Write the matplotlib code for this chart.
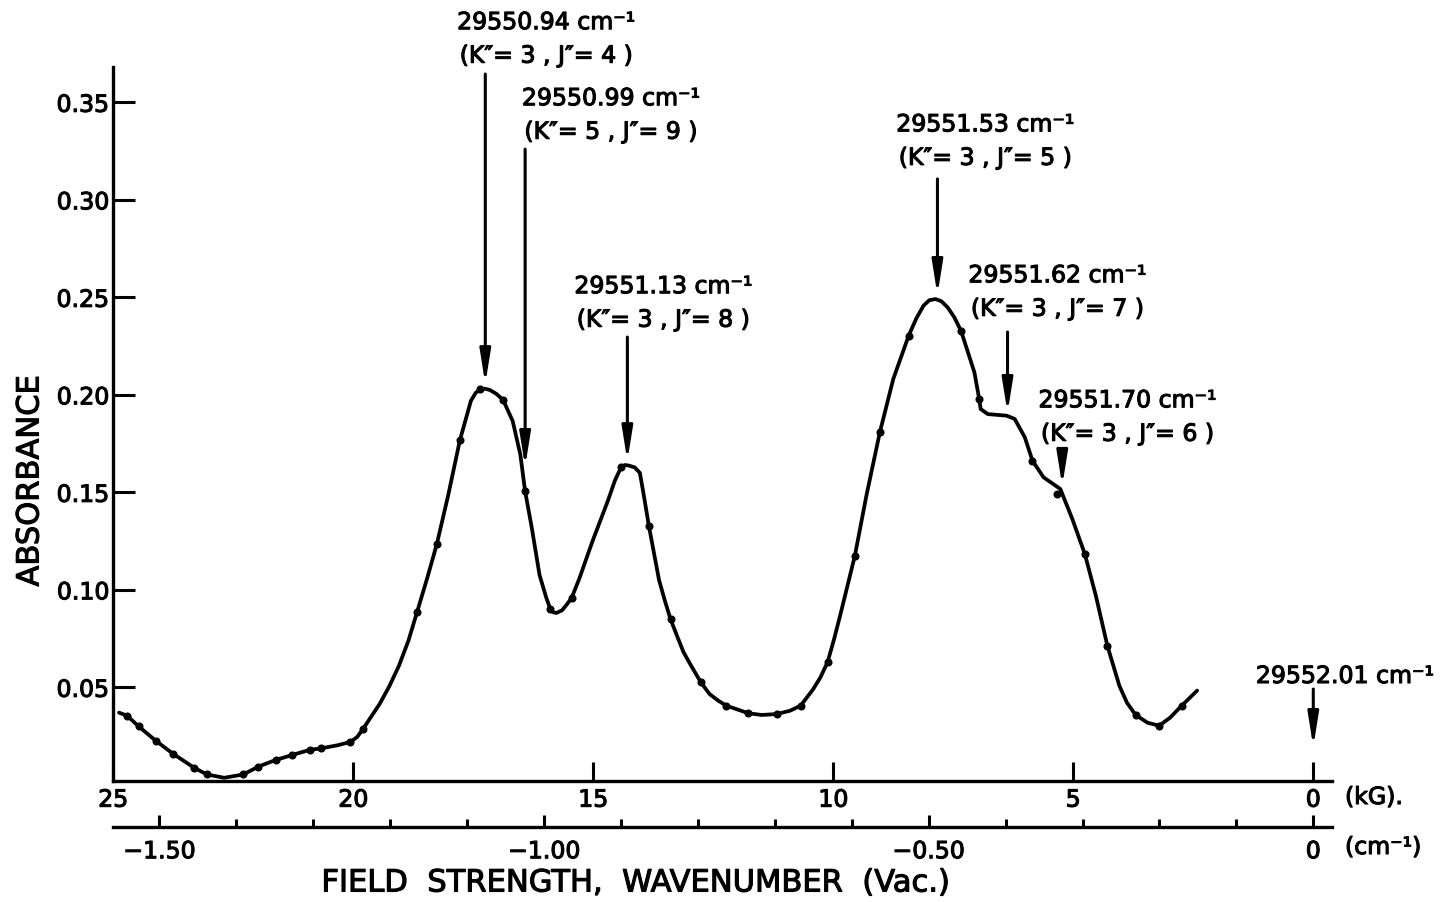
import numpy as np
import matplotlib
matplotlib.use("Agg")
import matplotlib.pyplot as plt
import matplotlib.patheffects as pe

plt.rcParams['font.family'] = ['DejaVu Sans']

# Absorbance vs. magnetic field (kG); smooth trace through the measurements
field_curve = [24.88, 24.71, 24.47, 24.11, 23.76, 23.32, 23.05, 22.69, 22.29, 21.98,
               21.62, 21.27, 20.91, 20.67, 20.32, 20.06, 19.92, 19.80, 19.68, 19.45,
               19.25, 19.05, 18.85, 18.67, 18.46, 18.26, 18.02, 17.78, 17.55, 17.45,
               17.35, 17.25, 17.15, 17.02, 16.88, 16.68, 16.52, 16.42, 16.28, 16.12,
               15.98, 15.90, 15.84, 15.77, 15.65, 15.55, 15.45, 15.29, 15.02, 14.70,
               14.55, 14.42, 14.34, 14.26, 14.14, 14.03, 13.95, 13.84, 13.63, 13.51,
               13.39, 13.25, 13.12, 12.96, 12.76, 12.58, 12.40, 12.23, 11.77, 11.49,
               11.17, 10.90, 10.68, 10.42, 10.27, 10.12, 9.98, 9.84, 9.55, 9.31,
               9.03, 8.75, 8.43, 8.27, 8.12, 8.00, 7.87, 7.75, 7.62, 7.48,
               7.34, 7.06, 6.96, 6.93, 6.78, 6.39, 6.22, 6.01, 5.85, 5.62,
               5.27, 5.02, 4.76, 4.53, 4.29, 4.04, 3.88, 3.70, 3.45, 3.21,
               2.98, 2.74, 2.42]
absorb_curve = [0.0370, 0.0354, 0.0299, 0.0225, 0.0160, 0.0088, 0.0053, 0.0036, 0.0053, 0.0093,
                0.0127, 0.0153, 0.0179, 0.0187, 0.0203, 0.0220, 0.0245, 0.0285, 0.0330, 0.0415,
                0.0505, 0.0610, 0.0740, 0.0887, 0.1060, 0.1234, 0.1488, 0.1766, 0.1969, 0.2010,
                0.2029, 0.2031, 0.2024, 0.2005, 0.1974, 0.1866, 0.1694, 0.1505, 0.1316, 0.1076,
                0.0960, 0.0904, 0.0885, 0.0881, 0.0895, 0.0925, 0.0959, 0.1058, 0.1247, 0.1454,
                0.1560, 0.1629, 0.1640, 0.1637, 0.1628, 0.1600, 0.1488, 0.1325, 0.1050, 0.0945,
                0.0849, 0.0760, 0.0680, 0.0610, 0.0526, 0.0466, 0.0432, 0.0406, 0.0367, 0.0358,
                0.0363, 0.0380, 0.0406, 0.0490, 0.0550, 0.0628, 0.0750, 0.0885, 0.1175, 0.1483,
                0.1808, 0.2081, 0.2303, 0.2392, 0.2457, 0.2485, 0.2491, 0.2480, 0.2449, 0.2398,
                0.2329, 0.2115, 0.1978, 0.1927, 0.1901, 0.1893, 0.1876, 0.1782, 0.1662, 0.1577,
                0.1517, 0.1363, 0.1184, 0.0970, 0.0713, 0.0508, 0.0420, 0.0358, 0.0318, 0.0303,
                0.0345, 0.0406, 0.0483]

# Measured points
field_pts = [24.71, 24.47, 24.11, 23.76, 23.32, 23.05, 22.29, 21.98, 21.62, 21.27,
             20.91, 20.67, 20.06, 19.80, 18.67, 18.26, 17.78, 17.35, 16.88, 16.42,
             15.90, 15.45, 14.42, 13.84, 13.39, 12.76, 12.23, 11.77, 11.17, 10.68,
             10.12, 9.55, 9.03, 8.43, 7.34, 6.96, 5.85, 5.33, 4.76, 4.29,
             3.70, 3.21, 2.74]
absorb_pts = [0.0354, 0.0299, 0.0225, 0.0160, 0.0088, 0.0053, 0.0053, 0.0093, 0.0127, 0.0153,
              0.0179, 0.0187, 0.0220, 0.0285, 0.0887, 0.1234, 0.1766, 0.2029, 0.1974, 0.1505,
              0.0904, 0.0959, 0.1629, 0.1325, 0.0849, 0.0526, 0.0406, 0.0367, 0.0363, 0.0406,
              0.0628, 0.1175, 0.1808, 0.2303, 0.2329, 0.1978, 0.1662, 0.1490, 0.1184, 0.0713,
              0.0358, 0.0303, 0.0406]

# Assigned transitions
line_field = [17.25, 16.42, 14.29, 7.83, 6.37, 5.23, 0.0]
line_wavenumber = ["29550.94", "29550.99", "29551.13", "29551.53", "29551.62", "29551.70", "29552.01"]
line_K = [3, 5, 3, 3, 3, 3, None]
line_J = [4, 9, 8, 5, 7, 6, None]

# Axis ticks
field_ticks = [25, 20, 15, 10, 5, 0]
field_ticklabels = ["25", "20", "15", "10", "5", "0"]
wn_ticks = [-1.50, -1.00, -0.50, 0.0]
wn_ticklabels = ["\u22121.50", "\u22121.00", "\u22120.50", "0"]
absorb_ticks = [0.05, 0.10, 0.15, 0.20, 0.25, 0.30, 0.35]
absorb_ticklabels = ["0.05", "0.10", "0.15", "0.20", "0.25", "0.30", "0.35"]
CM_PER_KG = 0.0624  # wavenumber shift per kG

# Slightly heavier lettering
ink = [pe.withStroke(linewidth=0.8, foreground='black')]

W, H = 1451, 903
fig = plt.figure(figsize=(W / 100, H / 100), dpi=100)
ax = fig.add_axes([113.3 / W, 1 - 781.7 / H, (1332 - 113.3) / W, (781.7 - 68) / H])

ax.plot(field_curve, absorb_curve, color='black', lw=2.7, solid_capstyle='round',
        solid_joinstyle='round', zorder=3)
ax.plot(field_pts, absorb_pts, 'o', color='black', ms=4.8, zorder=4)

ax.set_xlim(24.96, -0.39)
ax.set_ylim(0.0021, 0.3681)

for s in ('top', 'right'):
    ax.spines[s].set_visible(False)
for s in ('left', 'bottom'):
    ax.spines[s].set_linewidth(2.4)

ax.set_xticks(field_ticks)
ax.set_xticklabels(field_ticklabels)
ax.set_yticks(absorb_ticks)
ax.set_yticklabels(absorb_ticklabels)
ax.tick_params(axis='x', direction='in', length=14, width=2.2, labelsize=17, pad=5)
ax.tick_params(axis='y', direction='in', length=16, width=2.2, labelsize=17, pad=3)

# Wavenumber scale under the field scale
sec = ax.secondary_xaxis(-0.0645, functions=(lambda b: -CM_PER_KG * np.asarray(b),
                                             lambda w: -np.asarray(w) / CM_PER_KG))
sec.set_xticks(wn_ticks)
sec.set_xticklabels(wn_ticklabels)
sec.set_xticks(np.round(np.arange(-1.4, -0.05, 0.1), 2), minor=True)
sec.tick_params(which='major', direction='in', length=9, width=2.2, labelsize=17, pad=9)
sec.tick_params(which='minor', direction='in', length=5.5, width=2.2)
sec.spines['bottom'].set_linewidth(2.4)

for lbl in ax.get_xticklabels() + ax.get_yticklabels() + sec.get_xticklabels():
    lbl.set_path_effects(ink)

fig.text(1345 / W, 1 - 798 / H, "(kG).", fontsize=17, ha='left', va='center', path_effects=ink)
fig.text(1345 / W, 1 - 848 / H, "(cm\u207b\u00b9)", fontsize=17, ha='left', va='center',
         path_effects=ink)
fig.text(635 / W, 1 - 884 / H, "FIELD  STRENGTH,  WAVENUMBER  (Vac.)", fontsize=22,
         ha='center', va='center', path_effects=ink)
fig.text(30 / W, 1 - 482 / H, "ABSORBANCE", fontsize=22, rotation=90,
         ha='center', va='center', path_effects=ink)

# Arrow spans (tail, tip) and label centres for each transition
arrow_spans = [(0.3645, 0.2055), (0.326, 0.163), (0.2296, 0.166), (0.3107, 0.2512),
               (0.2322, 0.1907), (0.1712, 0.1533), (0.0491, 0.0194)]
label_xy = [(15.98, 0.3825), (14.63, 0.3435), (13.54, 0.2471), (6.83, 0.3301),
            (5.33, 0.2527), (3.87, 0.1886), (-0.66, 0.0558)]

for f, wn, k, j, (tail, tip), (lx, ly) in zip(line_field, line_wavenumber, line_K, line_J,
                                              arrow_spans, label_xy):
    ax.annotate("", xy=(f, tip), xytext=(f, tail), annotation_clip=False,
                arrowprops=dict(arrowstyle='-|>,head_length=1.0,head_width=0.16',
                                mutation_scale=20, color='black', lw=2.2,
                                shrinkA=0, shrinkB=0))
    txt = f"{wn} cm\u207b\u00b9"
    if k is not None:
        txt += f"\n(K\u2033= {k} , J\u2033= {j} )"
    ax.text(lx, ly, txt, fontsize=17, ha='center', va='center', multialignment='center',
            linespacing=1.5, clip_on=False, path_effects=ink)

fig.savefig("out.png", dpi=100, facecolor='white')
